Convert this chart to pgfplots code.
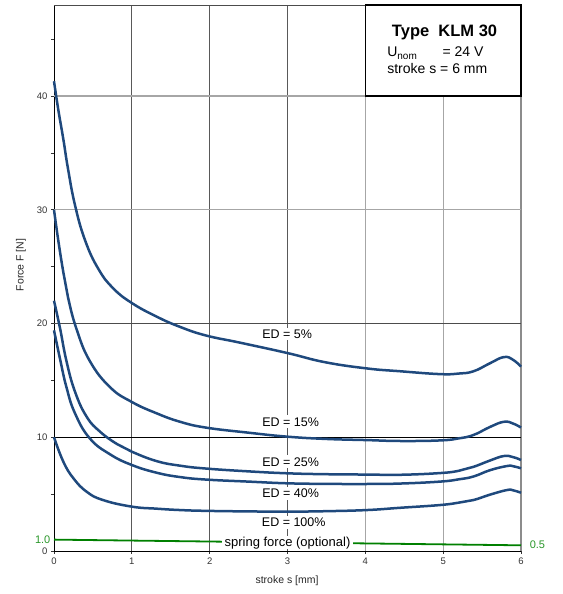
\documentclass[border=0pt]{standalone}
\usepackage{fontspec}
\setmainfont{Liberation Sans}
\usepackage{pgfplots}
\pgfplotsset{compat=1.18}
\definecolor{edblue}{RGB}{31,73,125}
\definecolor{sgreen}{RGB}{0,128,0}
\definecolor{tgreen}{RGB}{40,150,40}
\tikzset{edlab/.style={fill=white, inner xsep=6pt, inner ysep=2pt, font=\fontsize{12.5}{14}\selectfont}}
\pgfplotsset{edline/.style={edblue, line width=2.5pt, smooth, tension=0.75}}
\begin{document}
\begin{tikzpicture}
\path (0,0) rectangle (562pt,594pt);
\begin{axis}[name=ax, at={(54pt,43pt)}, anchor=south west,
  scale only axis, width=467pt, height=546pt,
  xmin=0, xmax=6, ymin=0, ymax=48,
  axis x line*=bottom, axis y line*=left,
  axis line style={black, line width=0.9pt, -},
  xtick={0,1,2,3,4,5,6}, ytick={0,10,20,30,40},
  minor ytick={5,15,25,35,45},
  tick align=outside, major tick length=3pt, minor tick length=3pt,
  tick style={black!80, line width=0.7pt},
  ticklabel style={font=\fontsize{9.5}{11}\selectfont, text=black!80},
  /pgf/number format/assume math mode=true,
  xlabel={stroke s [mm]}, ylabel={Force F [N]},
  xlabel style={at={(axis description cs:0.499,-0.055)}, anchor=center, font=\fontsize{10.5}{12}\selectfont, text=black!85},
  ylabel style={at={(axis description cs:-0.0707,0.524)}, anchor=center, font=\fontsize{10.5}{12}\selectfont, text=black!85},
  clip=false
]
% grid lines
\draw[black!65, line width=0.8pt] (axis cs:1,0) -- (axis cs:1,48);
\draw[black!65, line width=0.8pt] (axis cs:2,0) -- (axis cs:2,48);
\draw[black!65, line width=0.8pt] (axis cs:3,0) -- (axis cs:3,48);
\draw[black!35, line width=1.2pt] (axis cs:4,0) -- (axis cs:4,48);
\draw[black!35, line width=1.2pt] (axis cs:5,0) -- (axis cs:5,48);
\draw[black!45, line width=1.2pt] (axis cs:6,0) -- (axis cs:6,48);
\draw[black, line width=0.8pt] (axis cs:0,10) -- (axis cs:6,10);
\draw[black!70, line width=0.8pt] (axis cs:0,20) -- (axis cs:6,20);
\draw[black!35, line width=1.2pt] (axis cs:0,30) -- (axis cs:6,30);
\draw[black!35, line width=1.2pt] (axis cs:0,40) -- (axis cs:6,40);
\draw[black!70, line width=0.8pt] (axis cs:0,48) -- (axis cs:6,48);
% info box
\draw[fill=white, line width=1.2pt] (axis cs:4,40) rectangle (axis cs:6,48);
\node[anchor=base west, inner sep=0pt, font=\fontsize{16.5}{18}\selectfont\bfseries] at (axis cs:4.34,45.2) {Type\ \ KLM 30};
\node[anchor=base west, inner sep=0pt, font=\fontsize{14}{16}\selectfont] at (axis cs:4.28,43.44) {U\raisebox{-3pt}{\fontsize{10}{12}\selectfont nom}};
\node[anchor=base west, inner sep=0pt, font=\fontsize{14}{16}\selectfont] at (axis cs:4.99,43.44) {= 24 V};
\node[anchor=base west, inner sep=0pt, font=\fontsize{14}{16}\selectfont] at (axis cs:4.28,41.98) {stroke s = 6 mm};
% curves
\addplot[edline] coordinates {(0,41.3) (0.055,38.8) (0.12,36.2) (0.18,33.6) (0.27,30.4) (0.40,27.3) (0.57,24.8) (0.76,23.1) (1.0,21.8) (1.32,20.6) (1.62,19.7) (1.95,18.95) (2.4,18.3) (3.0,17.4) (3.48,16.6) (4.02,16.05) (4.45,15.8) (4.96,15.55) (5.2,15.6) (5.39,15.8) (5.6,16.5) (5.78,17.05) (5.9,16.8) (6,16.2)};
\addplot[edline] coordinates {(0,30.0) (0.055,27.3) (0.12,24.5) (0.18,22.3) (0.29,19.5) (0.46,16.7) (0.72,14.4) (1.0,13.1) (1.32,12.1) (1.62,11.36) (1.95,10.85) (2.5,10.4) (3.0,10.05) (3.5,9.85) (4.02,9.75) (4.45,9.67) (4.96,9.72) (5.2,9.9) (5.39,10.2) (5.6,10.9) (5.78,11.36) (5.9,11.2) (6,10.85)};
\addplot[edline] coordinates {(0,22.0) (0.077,19.6) (0.16,16.7) (0.27,14.0) (0.42,11.8) (0.59,10.5) (0.81,9.4) (1.0,8.73) (1.32,7.9) (1.62,7.5) (1.95,7.25) (2.5,7.0) (3.0,6.83) (3.5,6.75) (4.02,6.72) (4.45,6.7) (4.96,6.85) (5.2,7.05) (5.39,7.4) (5.6,7.95) (5.78,8.35) (5.9,8.25) (6,8.0)};
\addplot[edline] coordinates {(0,19.4) (0.077,16.9) (0.16,14.4) (0.27,12.1) (0.46,9.9) (0.72,8.5) (1.0,7.56) (1.32,6.88) (1.62,6.5) (1.95,6.28) (2.5,6.1) (3.0,5.95) (3.5,5.9) (4.02,5.89) (4.45,5.93) (4.96,6.1) (5.2,6.3) (5.39,6.55) (5.6,7.1) (5.82,7.47) (5.9,7.45) (6,7.27)};
\addplot[edline] coordinates {(0,10.0) (0.12,7.85) (0.25,6.39) (0.42,5.21) (0.63,4.48) (1.0,3.9) (1.32,3.72) (1.62,3.6) (1.95,3.53) (2.5,3.48) (3.0,3.46) (3.5,3.5) (4.02,3.6) (4.45,3.8) (4.96,4.04) (5.2,4.25) (5.39,4.48) (5.6,4.95) (5.82,5.36) (5.9,5.33) (6,5.12)};
% spring force
\addplot[sgreen, line width=1.8pt] coordinates {(0,1.0) (6,0.5)};
\node[fill=white, inner xsep=3pt, inner ysep=0.5pt, font=\fontsize{13}{15}\selectfont] at (axis cs:3.0,0.72) {spring force (optional)};
\node[anchor=east, text=tgreen, inner sep=0pt, font=\fontsize{11}{13}\selectfont] at (axis cs:-0.045,1.0) {1.0};
\node[anchor=west, text=tgreen, inner sep=0pt, font=\fontsize{11}{13}\selectfont] at (axis cs:6.11,0.55) {0.5};
% ED labels
\node[edlab] at (axis cs:2.995,19.07) {ED = 5\%};
\node[edlab] at (axis cs:3.04,11.36) {ED = 15\%};
\node[edlab] at (axis cs:3.04,7.85) {ED = 25\%};
\node[edlab] at (axis cs:3.04,5.07) {ED = 40\%};
\node[edlab] at (axis cs:3.08,2.52) {ED = 100\%};
\end{axis}
\end{tikzpicture}
\end{document}
